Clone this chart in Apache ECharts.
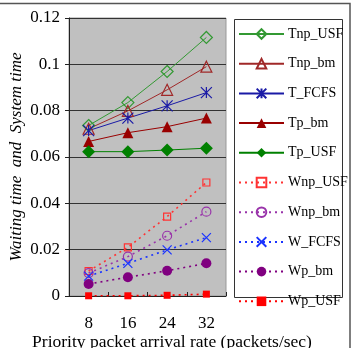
<!DOCTYPE html>
<html>
<head>
<meta charset="utf-8">
<script src="https://cdn.jsdelivr.net/npm/echarts@6/dist/echarts.min.js"></script>
<style>
html, body { margin: 0; padding: 0; background: #fff; }
#main { width: 353px; height: 348px; }
</style>
</head>
<body>
<div id="main"></div>
<script>
var rates = ['8', '16', '24', '32'];

var tnpUsf = [0.0736, 0.0835, 0.0969, 0.1116];
var tnpBm = [0.0722, 0.0799, 0.0890, 0.0990];
var tFcfs = [0.0714, 0.0768, 0.0821, 0.0878];
var tpBm = [0.0667, 0.0705, 0.0731, 0.0768];
var tpUsf = [0.0623, 0.0623, 0.0630, 0.0638];
var wnpUsf = [0.0108, 0.0210, 0.0343, 0.0490];
var wnpBm = [0.0099, 0.0170, 0.0260, 0.0364];
var wFcfs = [0.0086, 0.0141, 0.0199, 0.0252];
var wpBm = [0.0052, 0.0081, 0.0109, 0.0141];
var wpUsf = [0.0001, 0.0001, 0.0003, 0.0008];

var starPath = 'path://M0,0L10,10M10,0L0,10M5,0L5,10';
var crossPath = 'path://M0,0L10,10M10,0L0,10';

function mk(name, data, color, symbol, size, filled, dotted) {
    return {
        name: name,
        type: 'line',
        data: data,
        symbol: symbol,
        symbolSize: size,
        showSymbol: true,
        animation: false,
        lineStyle: {
            color: color,
            width: dotted ? 1.6 : 1,
            type: dotted ? [2, 4] : 'solid'
        },
        itemStyle: {
            color: filled ? color : 'transparent',
            borderColor: color,
            borderWidth: filled ? 0 : 1.2
        }
    };
}

var myChart = echarts.init(document.getElementById('main'));
var option = {
    backgroundColor: '#fff',
    animation: false,
    textStyle: { fontFamily: 'Liberation Serif' },
    grid: {
        left: 69, right: 127, top: 18, bottom: 52,
        show: true,
        backgroundColor: '#c0c0c0',
        borderColor: '#999',
        borderWidth: 1
    },
    graphic: [{
        type: 'rect',
        shape: { x: -2, y: 3.5, width: 352, height: 350 },
        style: { fill: 'none', stroke: '#555', lineWidth: 1.5 },
        z: -1
    }, {
        type: 'rect',
        shape: { x: 234.5, y: 19.5, width: 108, height: 278 },
        style: { fill: '#fff', stroke: '#333', lineWidth: 1 },
        z: 0
    }, {
        type: 'text',
        x: 172, y: 342,
        style: {
            text: 'Priority packet arrival rate (packets/sec)',
            font: '17.5px "Liberation Serif"',
            fill: '#000',
            align: 'center',
            verticalAlign: 'middle'
        }
    }],
    legend: {
        orient: 'vertical',
        left: 238,
        top: 27,
        itemWidth: 45,
        itemHeight: 12,
        itemGap: 15.7,
        padding: 0,
        z: 5,
        textStyle: { fontFamily: 'Liberation Serif', fontSize: 14, color: '#000', padding: [0, 0, 0, -1] },
        data: ['Tnp_USF', 'Tnp_bm', 'T_FCFS', 'Tp_bm', 'Tp_USF', 'Wnp_USF', 'Wnp_bm', 'W_FCFS', 'Wp_bm', 'Wp_USF']
    },
    xAxis: {
        type: 'category',
        data: rates,
        boundaryGap: true,
        axisLine: { lineStyle: { color: '#222', width: 1 } },
        axisTick: { show: true, inside: true, length: 4, lineStyle: { color: '#222' } },
        axisLabel: { fontFamily: 'Liberation Serif', fontSize: 17, color: '#000', margin: 19 },
        splitLine: { show: false }
    },
    yAxis: {
        type: 'value',
        min: 0,
        max: 0.12,
        interval: 0.02,
        name: 'Waiting time  and  System time',
        nameLocation: 'middle',
        nameGap: 44,
        nameTextStyle: { fontFamily: 'Liberation Serif', fontSize: 17, fontStyle: 'italic', color: '#000' },
        axisLine: { show: true, lineStyle: { color: '#222', width: 1 } },
        axisTick: { show: true, length: 4, lineStyle: { color: '#222' } },
        axisLabel: { fontFamily: 'Liberation Serif', fontSize: 17, color: '#000', margin: 9 },
        splitLine: { show: true, lineStyle: { color: '#333', width: 1 } }
    },
    series: [
        mk('Tnp_USF', tnpUsf, '#339933', 'diamond', 12, false, false),
        mk('Tnp_bm', tnpBm, '#a02828', 'triangle', 11, false, false),
        mk('T_FCFS', tFcfs, '#1a1aa6', starPath, 11, false, false),
        mk('Tp_bm', tpBm, '#990000', 'triangle', 11, true, false),
        mk('Tp_USF', tpUsf, '#008000', 'diamond', 13, true, false),
        mk('Wnp_USF', wnpUsf, '#ff3333', 'rect', 7, false, true),
        mk('Wnp_bm', wnpBm, '#9933aa', 'circle', 9, false, true),
        mk('W_FCFS', wFcfs, '#1a33ff', crossPath, 9, false, true),
        mk('Wp_bm', wpBm, '#800080', 'circle', 10, true, true),
        mk('Wp_USF', wpUsf, '#ff0000', 'rect', 7, true, true)
    ]
};
myChart.setOption(option);
</script>
</body>
</html>
